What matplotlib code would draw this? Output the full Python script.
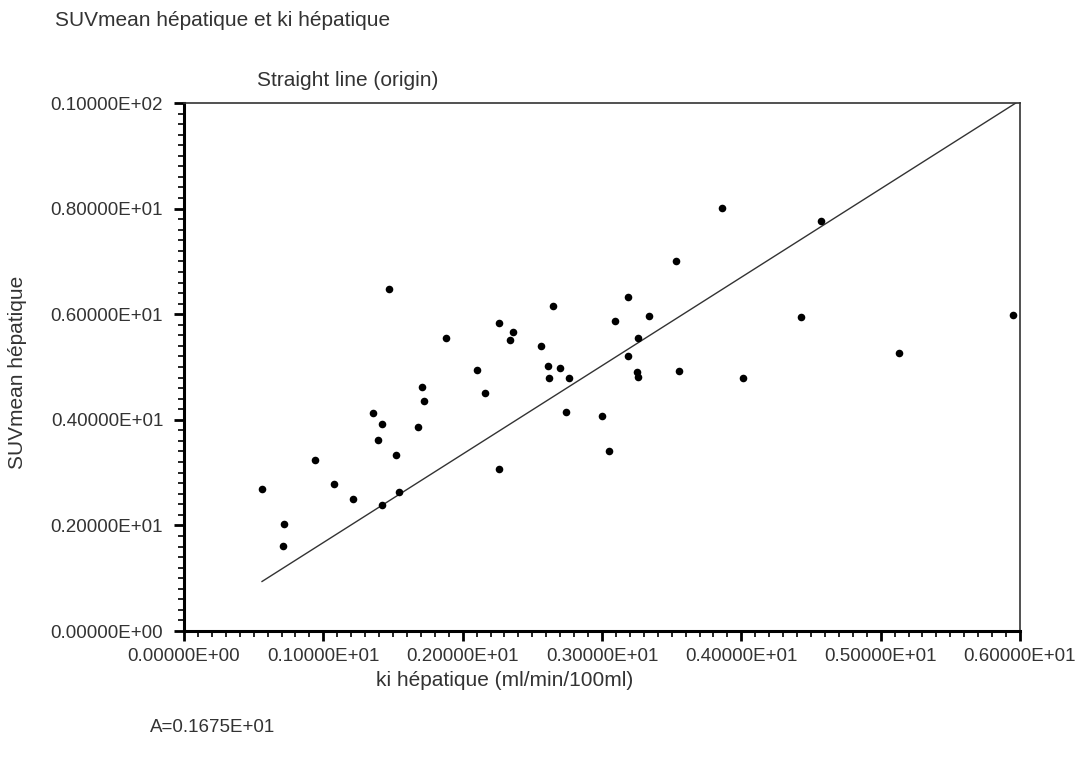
import numpy as np
import matplotlib
matplotlib.use('Agg')
import matplotlib.pyplot as plt
from matplotlib.ticker import MultipleLocator, FuncFormatter

# ki hepatique (x) and SUVmean hepatique (y)
ki = [0.56, 0.72, 0.71, 0.94, 1.08, 1.21, 1.36, 1.42, 1.39, 1.42,
      1.52, 1.54, 1.71, 1.72, 1.68, 1.47, 1.88, 2.10, 2.16, 2.26,
      2.26, 2.36, 2.34, 2.56, 2.61, 2.70, 2.62, 2.76, 2.74, 2.65,
      3.00, 3.05, 3.09, 3.19, 3.34, 3.26, 3.19, 3.25, 3.26, 3.55,
      3.53, 4.01, 3.86, 4.57, 4.43, 5.13, 5.95]
suv = [2.69, 2.03, 1.61, 3.23, 2.78, 2.50, 4.12, 3.92, 3.62, 2.39,
       3.34, 2.64, 4.63, 4.35, 3.87, 6.47, 5.55, 4.95, 4.51, 3.06,
       5.83, 5.66, 5.52, 5.40, 5.02, 4.99, 4.80, 4.80, 4.15, 6.16,
       4.07, 3.40, 5.88, 6.32, 5.96, 5.55, 5.21, 4.90, 4.82, 4.93,
       7.00, 4.79, 8.01, 7.76, 5.94, 5.27, 5.99]

A = 1.675  # slope of the straight line through the origin

txt = '#333333'
plt.rcParams['font.family'] = ['Liberation Sans', 'DejaVu Sans']


def sci_fmt(v, pos=None):
    if abs(v) < 1e-12:
        return '0.00000E+00'
    e = int(np.floor(np.log10(abs(v)))) + 1
    m = v / 10 ** e
    return f'{m:.5f}E{e:+03d}'


fig = plt.figure(figsize=(10.79, 7.58), dpi=100)
ax = fig.add_axes([184 / 1079, 1 - 631 / 758, (1020 - 184) / 1079, (631 - 103) / 758])

ax.scatter(ki, suv, s=30, c='black', zorder=3, linewidths=0)

xl = np.array([min(ki), 10 / A])
ax.plot(xl, A * xl, color='#333333', lw=1.0, zorder=2)

ax.set_xlim(0, 6)
ax.set_ylim(0, 10)
ax.xaxis.set_major_locator(MultipleLocator(1))
ax.xaxis.set_minor_locator(MultipleLocator(0.1))
ax.yaxis.set_major_locator(MultipleLocator(2))
ax.yaxis.set_minor_locator(MultipleLocator(0.2))
ax.xaxis.set_major_formatter(FuncFormatter(sci_fmt))
ax.yaxis.set_major_formatter(FuncFormatter(sci_fmt))

ax.tick_params(which='major', direction='out', length=7, width=2, labelsize=13.5,
               labelcolor=txt, color='black', pad=5)
ax.tick_params(which='minor', direction='out', length=4, width=1.2, color='black')
ax.tick_params(axis='y', which='major', pad=8)

for s in ['left', 'bottom']:
    ax.spines[s].set_linewidth(2.2)
    ax.spines[s].set_color('black')
for s in ['top', 'right']:
    ax.spines[s].set_linewidth(1.2)
    ax.spines[s].set_color('#333333')

fig.text(55 / 1079, 1 - 21 / 758, 'SUVmean hépatique et ki hépatique', fontsize=15,
         color=txt, ha='left', va='center')
fig.text(348 / 1079, 1 - 80 / 758, 'Straight line (origin)', fontsize=15,
         color=txt, ha='center', va='center')
fig.text(505 / 1079, 1 - 681 / 758, 'ki hépatique (ml/min/100ml)', fontsize=15,
         color=txt, ha='center', va='center')
fig.text(18 / 1079, 1 - 372 / 758, 'SUVmean hépatique', fontsize=15,
         color=txt, ha='center', va='center', rotation=90)
fig.text(150 / 1079, 1 - 728 / 758, 'A=0.1675E+01', fontsize=13.5,
         color=txt, ha='left', va='center')

fig.savefig('out.png', dpi=100, facecolor='white')
